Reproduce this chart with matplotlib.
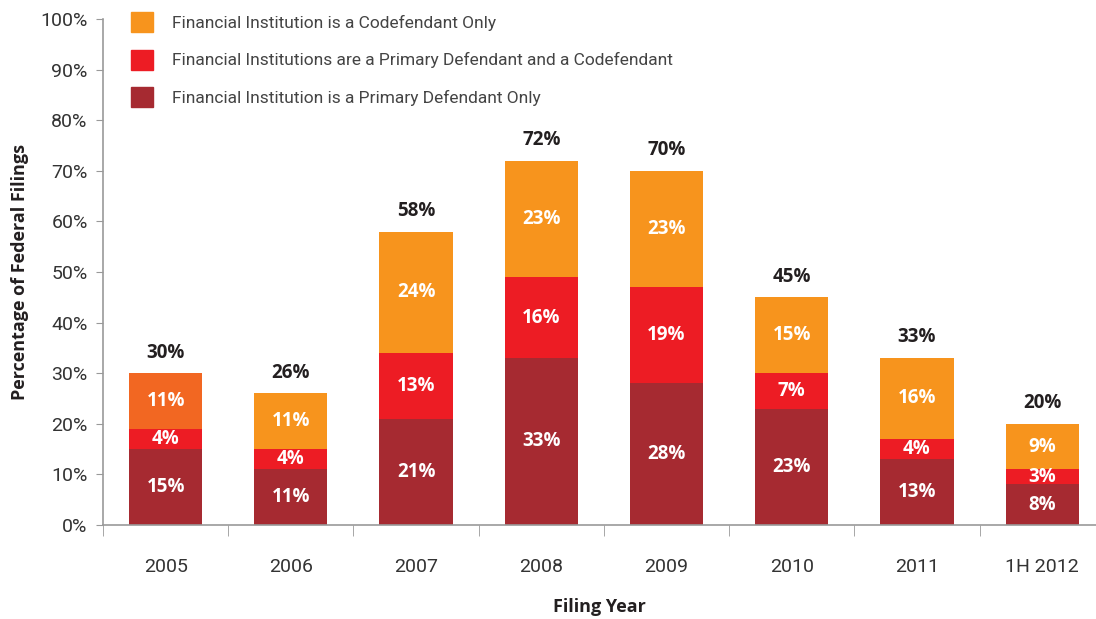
import numpy as np
import matplotlib
matplotlib.use("Agg")
import matplotlib.pyplot as plt
from matplotlib.patches import Patch

plt.rcParams['font.family'] = ['Roboto', 'DejaVu Sans']
BOLD = ['Open Sans', 'DejaVu Sans']

years = ['2005', '2006', '2007', '2008', '2009', '2010', '2011', '1H 2012']
primary_only = [15, 11, 21, 33, 28, 23, 13, 8]
primary_and_co = [4, 4, 13, 16, 19, 7, 4, 3]
co_only = [11, 11, 24, 23, 23, 15, 16, 9]
totals = [30, 26, 58, 72, 70, 45, 33, 20]

legend_labels = ['Financial Institution is a Codefendant Only',
                 'Financial Institutions are a Primary Defendant and a Codefendant',
                 'Financial Institution is a Primary Defendant Only']

c_dark = '#A62A31'
c_red = '#ED1C24'
c_orange = '#F7941D'
c_orange05 = '#F26722'

fig = plt.figure(figsize=(10.96, 6.19), dpi=100)
ax = fig.add_axes([0.094, 0.152, 0.906, 0.817])

x = np.arange(len(years))
w = 0.585
b1 = ax.bar(x, primary_only, w, color=c_dark)
b2 = ax.bar(x, primary_and_co, w, bottom=primary_only, color=c_red)
bottom3 = np.array(primary_only) + np.array(primary_and_co)
ocolors = [c_orange05] + [c_orange] * (len(years) - 1)
b3 = ax.bar(x, co_only, w, bottom=bottom3, color=ocolors)

for vals, bots in [(primary_only, np.zeros(len(x))),
                   (primary_and_co, primary_only),
                   (co_only, bottom3)]:
    for i, v in enumerate(vals):
        ax.text(x[i], bots[i] + v / 2, f'{v}%', ha='center', va='center',
                color='white', fontsize=13.5, fontweight='bold', family=BOLD)

for i, t in enumerate(totals):
    ax.text(x[i], t + 2.1, f'{t}%', ha='center', va='bottom',
            color='#231f20', fontsize=13.5, fontweight='bold', family=BOLD)

ax.set_xlim(-0.5, 7.43)
ax.set_ylim(0, 100)
ax.set_yticks(np.arange(0, 101, 10))
ax.set_yticklabels([f'{v}%' for v in range(0, 101, 10)], fontsize=14, color='#333333')
ax.set_xticks(x)
ax.set_xticklabels(years, fontsize=14, color='#333333')
ax.set_xticks(np.arange(-0.5, 7.5, 1), minor=True)
ax.tick_params(axis='x', which='major', length=0, pad=24)
ax.tick_params(axis='x', which='minor', length=8, color='#999999', direction='out')
ax.tick_params(axis='y', length=5, color='#999999', pad=6)

for s in ['top', 'right']:
    ax.spines[s].set_visible(False)
for s in ['left', 'bottom']:
    ax.spines[s].set_color('#999999')
    ax.spines[s].set_linewidth(1.2)

ax.set_ylabel('Percentage of Federal Filings', fontsize=13, fontweight='bold',
              color='#231f20', labelpad=8, family=BOLD)
ax.set_xlabel('Filing Year', fontsize=13, fontweight='bold', color='#231f20',
              labelpad=16, family=BOLD)

handles = [Patch(color=c_orange), Patch(color=c_red), Patch(color=c_dark)]
ax.legend(handles, legend_labels, loc='upper left', bbox_to_anchor=(0.028, 1.014),
          frameon=False, fontsize=12.5, labelcolor='#444444', handlelength=1.3,
          handleheight=1.4, handletextpad=1.1, labelspacing=1.0, borderpad=0,
          borderaxespad=0)

fig.savefig('out.png', dpi=100)
